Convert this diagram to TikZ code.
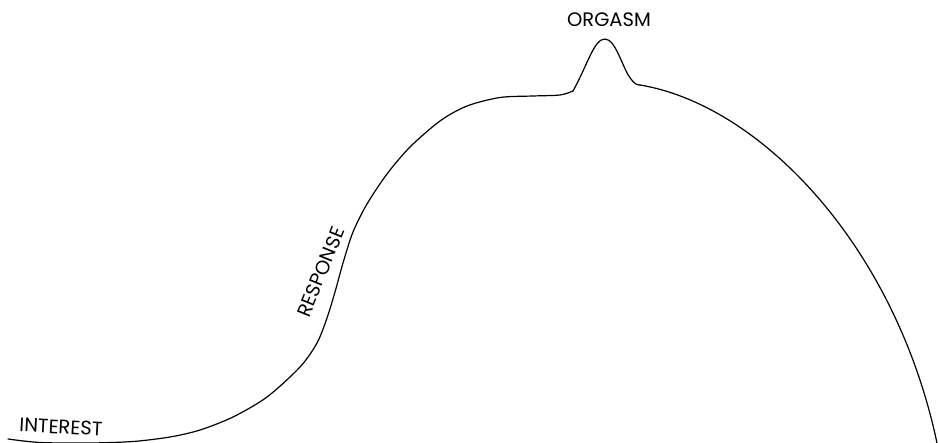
\documentclass[tikz,border=0pt]{standalone}
\usepackage{fontspec}
\setmainfont{Poppins}
\begin{document}
\begin{tikzpicture}[x=1pt,y=-1pt,
  lab/.style={inner sep=0pt,font=\fontsize{19.5}{19.5}\selectfont},
  curve/.style={line width=1.2pt,line join=round,line cap=round}]
\useasboundingbox (0,0) rectangle (938,443);
\draw[curve] plot[smooth,tension=0.5] coordinates {
 (8,439) (40,442.5) (90,443) (133,441.5) (170,437) (200,430) (233,417)
 (267,397) (300,367) (317,343) (327,318) (335,292) (343,263) (353,232)
 (367,204) (387,174) (410,147) (440,121) (467,106) (500,97.5) (533,96)
 (560,95) (573,91)};
\draw[curve] (573,91) .. controls (588,64) and (594,39) .. (605,39)
  .. controls (616,39) and (623,70) .. (631,79)
  .. controls (634,83) and (636,85) .. (640,85);
\draw[curve] (640,85) .. controls (760,105) and (895,245) .. (937,443);
\node[lab,rotate=-3] (interest) at (61,427) {INTEREST};
\node[lab,rotate=68] (response) at (321,272) {RESPONSE};
\node[lab] (orgasm) at (609,20) {ORGASM};
\end{tikzpicture}
\end{document}
